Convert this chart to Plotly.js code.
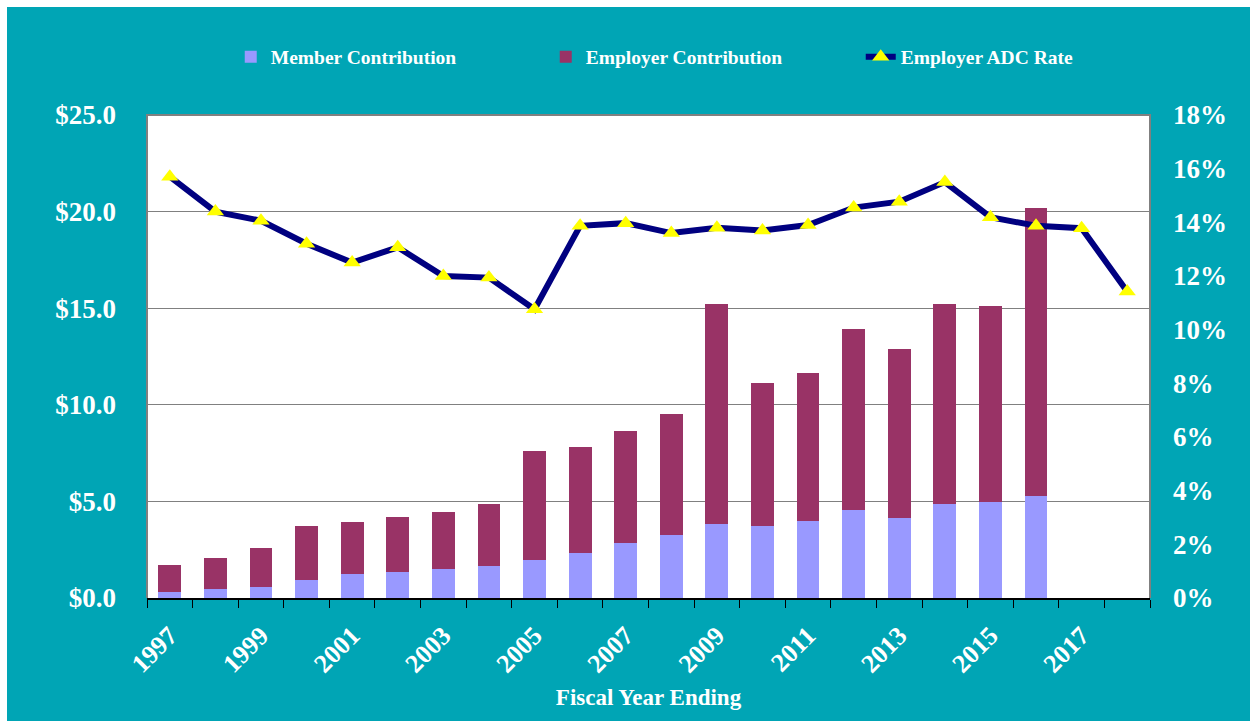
<!DOCTYPE html>
<html>
<head>
<meta charset="utf-8">
<script src="https://cdn.plot.ly/plotly-3.0.1.min.js"></script>
<style>
html,body{margin:0;padding:0;background:#ffffff;}
#chart{position:absolute;left:7px;top:7px;width:1243px;height:714px;}
</style>
</head>
<body>
<div id="chart"></div>
<script>
const barYears = [1997,1998,1999,2000,2001,2002,2003,2004,2005,2006,2007,2008,2009,2010,2011,2012,2013,2014,2015,2016];
const memberContribution = [0.33,0.45,0.57,0.93,1.24,1.36,1.50,1.66,1.97,2.35,2.86,3.26,3.83,3.71,3.97,4.55,4.16,4.88,4.95,5.30];
const totalContribution = [1.71,2.09,2.60,3.73,3.92,4.18,4.43,4.85,7.61,7.82,8.64,9.51,15.23,11.14,11.66,13.92,12.89,15.23,15.10,20.17];
const employerContribution = totalContribution.map((t,i)=>+(t-memberContribution[i]).toFixed(2));
const rateYears = [1997,1998,1999,2000,2001,2002,2003,2004,2005,2006,2007,2008,2009,2010,2011,2012,2013,2014,2015,2016,2017,2018];
const adcRate = [15.7,14.4,14.06,13.2,12.5,13.07,12.0,11.94,10.76,13.87,13.97,13.6,13.8,13.7,13.9,14.55,14.77,15.5,14.19,13.87,13.78,11.42];
const xTickVals = [1997,1999,2001,2003,2005,2007,2009,2011,2013,2015,2017];

const FONT = "'Liberation Serif', 'Times New Roman', serif";
const TEAL = '#00A5B5';

const traces = [
  {type:'bar', name:'Member Contribution', x:barYears, y:memberContribution, width:0.5,
   marker:{color:'#9999FF'}, hoverinfo:'skip'},
  {type:'bar', name:'Employer Contribution', x:barYears, y:employerContribution, width:0.5,
   marker:{color:'#993366'}, hoverinfo:'skip'},
  {type:'scatter', mode:'lines+markers', name:'Employer ADC Rate', x:rateYears, y:adcRate, yaxis:'y2',
   line:{color:'#000080', width:6}, marker:{symbol:'triangle-up', size:15, color:'#FFFF00'}, hoverinfo:'skip'}
];

const layout = {
  width:1243, height:714,
  paper_bgcolor:TEAL, plot_bgcolor:'#FFFFFF',
  margin:{l:140, r:100, t:108, b:123},
  barmode:'stack',
  font:{family:FONT, color:'#FFFFFF'},
  showlegend:true,
  legend:{orientation:'h', xref:'container', yref:'container', x:0.180, y:0.93, xanchor:'left', yanchor:'middle',
          font:{family:FONT, size:19.5, color:'#FFFFFF', weight:'bold'}, entrywidth:270, entrywidthmode:'pixels',
          bgcolor:'rgba(0,0,0,0)', traceorder:'normal'},
  xaxis:{type:'linear', range:[1996.5,2018.5], tickvals:xTickVals, ticktext:xTickVals.map(String),
         tickangle:-45, ticks:'outside', ticklen:10, tickcolor:'rgba(0,0,0,0)',
         minor:{tick0:1996.5, dtick:1, ticks:'outside', ticklen:8, tickcolor:'#000000', tickwidth:1, showgrid:false},
         showgrid:false, zeroline:false, showline:true, linecolor:'#000000', linewidth:2,
         tickfont:{family:FONT, size:26, color:'#FFFFFF', weight:'bold'},
         title:{text:'Fiscal Year Ending', font:{family:FONT, size:23, color:'#FFFFFF', weight:'bold'}, standoff:11}},
  yaxis:{range:[0,25], dtick:5, tickprefix:'$', tickformat:'.1f', showgrid:true, gridcolor:'#808080', gridwidth:1,
         zeroline:false, showline:false, ticks:'', ticklabelstandoff:30,
         tickfont:{family:FONT, size:27, color:'#FFFFFF', weight:'bold'}},
  yaxis2:{overlaying:'y', side:'right', range:[0,18], dtick:2, ticksuffix:'%', showgrid:false, zeroline:false,
          showline:false, ticks:'', ticklabelstandoff:22,
          tickfont:{family:FONT, size:27, color:'#FFFFFF', weight:'bold'}},
  shapes:[
    {type:'path', xref:'paper', yref:'paper', path:'M0,0 L0,1 L1,1 L1,0', line:{color:'#808080', width:2}, layer:'above'}
  ],
  annotations:[
    {text:'Millions', xref:'container', yref:'container', x:26/1243, y:1-(235/714), textangle:-90, showarrow:false,
     font:{family:FONT, size:17, color:'#FFFFFF', weight:'bold'}}
  ]
};

Plotly.newPlot('chart', traces, layout, {displayModeBar:false, staticPlot:true});
</script>
</body>
</html>
